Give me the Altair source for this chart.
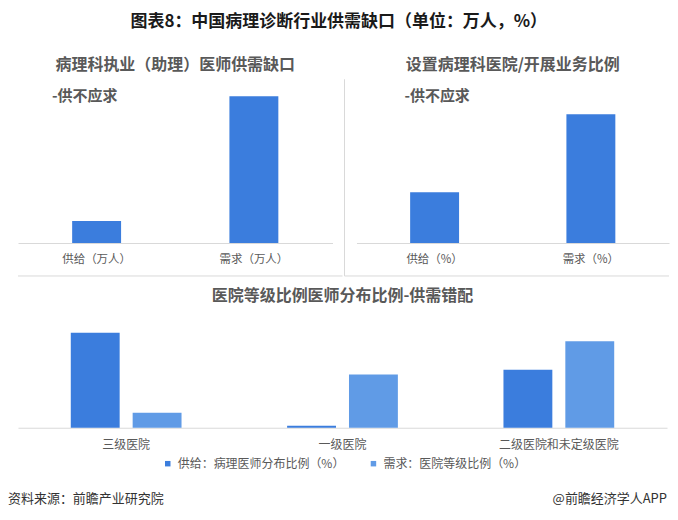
import altair as alt
import pandas as pd

FONT = "Noto Sans CJK SC"
GRAY = "#595959"
SUPPLY = "#3b7ddd"
DEMAND = "#609be6"
LINE = "#d9d9d9"

# ---- data ----
doc_cats = ["供给（万人）", "需求（万人）"]
doc_vals = [1.5, 10.0]
hosp_cats = ["供给（%）", "需求（%）"]
hosp_vals = [35.5, 90.0]
level_cats = ["三级医院", "一级医院", "二级医院和未定级医院"]
supply_share = [61.3, 1.3, 37.4]
demand_share = [9.7, 34.4, 55.9]
series_names = ["供给：病理医师分布比例（%）", "需求：医院等级比例（%）"]

TOP_H = 164
BOT_W, BOT_H = 650, 110


def top_panel(cats, vals, title, ymax, width, sub_x, extra):
    df = pd.DataFrame({"cat": cats, "val": vals})
    bars = alt.Chart(df).mark_bar(size=49, color=SUPPLY).encode(
        x=alt.X("cat:N", sort=cats, title=None,
                scale=alt.Scale(paddingInner=0, paddingOuter=0),
                axis=alt.Axis(labelAngle=0, ticks=False, domainColor=LINE,
                              labelColor=GRAY, labelFontSize=11.5, labelPadding=11,
                              labelFont=FONT, grid=False)),
        y=alt.Y("val:Q", scale=alt.Scale(domain=[0, ymax], nice=False), axis=None),
    )
    sub = alt.Chart(pd.DataFrame({"t": ["-供不应求"]})).mark_text(
        align="left", baseline="middle", fontSize=15, color=GRAY, font=FONT,
        fontWeight="bold").encode(x=alt.value(sub_x), y=alt.value(17), text="t:N")
    return alt.layer(bars, sub, *extra).properties(
        width=width, height=TOP_H,
        title=alt.TitleParams(title, fontSize=16, font=FONT, color=GRAY,
                              fontWeight="bold", anchor="middle", offset=6))


dummy = pd.DataFrame({"a": [0]})
left_line = alt.Chart(dummy).mark_rule(color=LINE).encode(
    x=alt.value(0), x2=alt.value(325), y=alt.value(197))
right_hline = alt.Chart(dummy).mark_rule(color=LINE).encode(
    x=alt.value(-12), x2=alt.value(313), y=alt.value(197))
right_vline = alt.Chart(dummy).mark_rule(color=LINE).encode(
    x=alt.value(-12), y=alt.value(0), y2=alt.value(197))

left = top_panel(doc_cats, doc_vals, "病理科执业（助理）医师供需缺口",
                 10 * TOP_H / 147, 315, 34, [left_line])
right = top_panel(hosp_cats, hosp_vals, "设置病理科医院/开展业务比例",
                  90 * TOP_H / 129, 313, 48, [right_hline, right_vline])

top_row = alt.hconcat(left, right, spacing=0)

rows = []
for i, lv in enumerate(level_cats):
    rows.append({"level": lv, "series": series_names[0], "value": supply_share[i]})
    rows.append({"level": lv, "series": series_names[1], "value": demand_share[i]})
bdf = pd.DataFrame(rows)

bars = alt.Chart(bdf).mark_bar().encode(
    x=alt.X("level:N", sort=level_cats, title=None,
            scale=alt.Scale(paddingInner=0.428, paddingOuter=0.214),
            axis=alt.Axis(labelAngle=0, ticks=False, domainColor=LINE,
                          labelColor=GRAY, labelFontSize=12, labelPadding=12,
                          labelFont=FONT, grid=False)),
    xOffset=alt.XOffset("series:N", sort=series_names,
                        scale=alt.Scale(paddingInner=0.21, paddingOuter=0.105)),
    y=alt.Y("value:Q", scale=alt.Scale(domain=[0, BOT_H / 1.55], nice=False), axis=None),
    color=alt.Color("series:N", sort=series_names,
                    scale=alt.Scale(domain=series_names, range=[SUPPLY, DEMAND]),
                    legend=alt.Legend(orient="none", legendX=144, legendY=140,
                                      direction="horizontal", title=None,
                                      symbolType="square", symbolSize=30,
                                      symbolStrokeWidth=0, labelLimit=300,
                                      labelFontSize=12, labelColor=GRAY,
                                      labelFont=FONT, columnPadding=22)),
)

footer_l = alt.Chart(pd.DataFrame({"t": ["资料来源：前瞻产业研究院"]})).mark_text(
    align="left", baseline="middle", fontSize=13, color="#333333", font=FONT
).encode(x=alt.value(-10), y=alt.value(181), text="t:N")
footer_r = alt.Chart(pd.DataFrame({"t": ["@前瞻经济学人APP"]})).mark_text(
    align="right", baseline="middle", fontSize=13, color="#333333", font=FONT
).encode(x=alt.value(650), y=alt.value(181), text="t:N")

bottom = alt.layer(bars, footer_l, footer_r).properties(
    width=BOT_W, height=BOT_H,
    title=alt.TitleParams("医院等级比例医师分布比例-供需错配", fontSize=16, font=FONT,
                          color=GRAY, fontWeight="bold", anchor="middle", offset=14))

chart = alt.vconcat(top_row, bottom, spacing=11).properties(
    title=alt.TitleParams("图表8：中国病理诊断行业供需缺口（单位：万人，%）",
                          fontSize=17, font=FONT, color="#1a1a1a",
                          fontWeight="bold", anchor="middle", offset=26),
    padding={"left": 0, "top": 4, "right": 0, "bottom": 0},
    background="white",
).resolve_legend(color="independent").configure_view(strokeWidth=0)

chart.save("out.html", embed_options={"renderer": "svg", "actions": False})
